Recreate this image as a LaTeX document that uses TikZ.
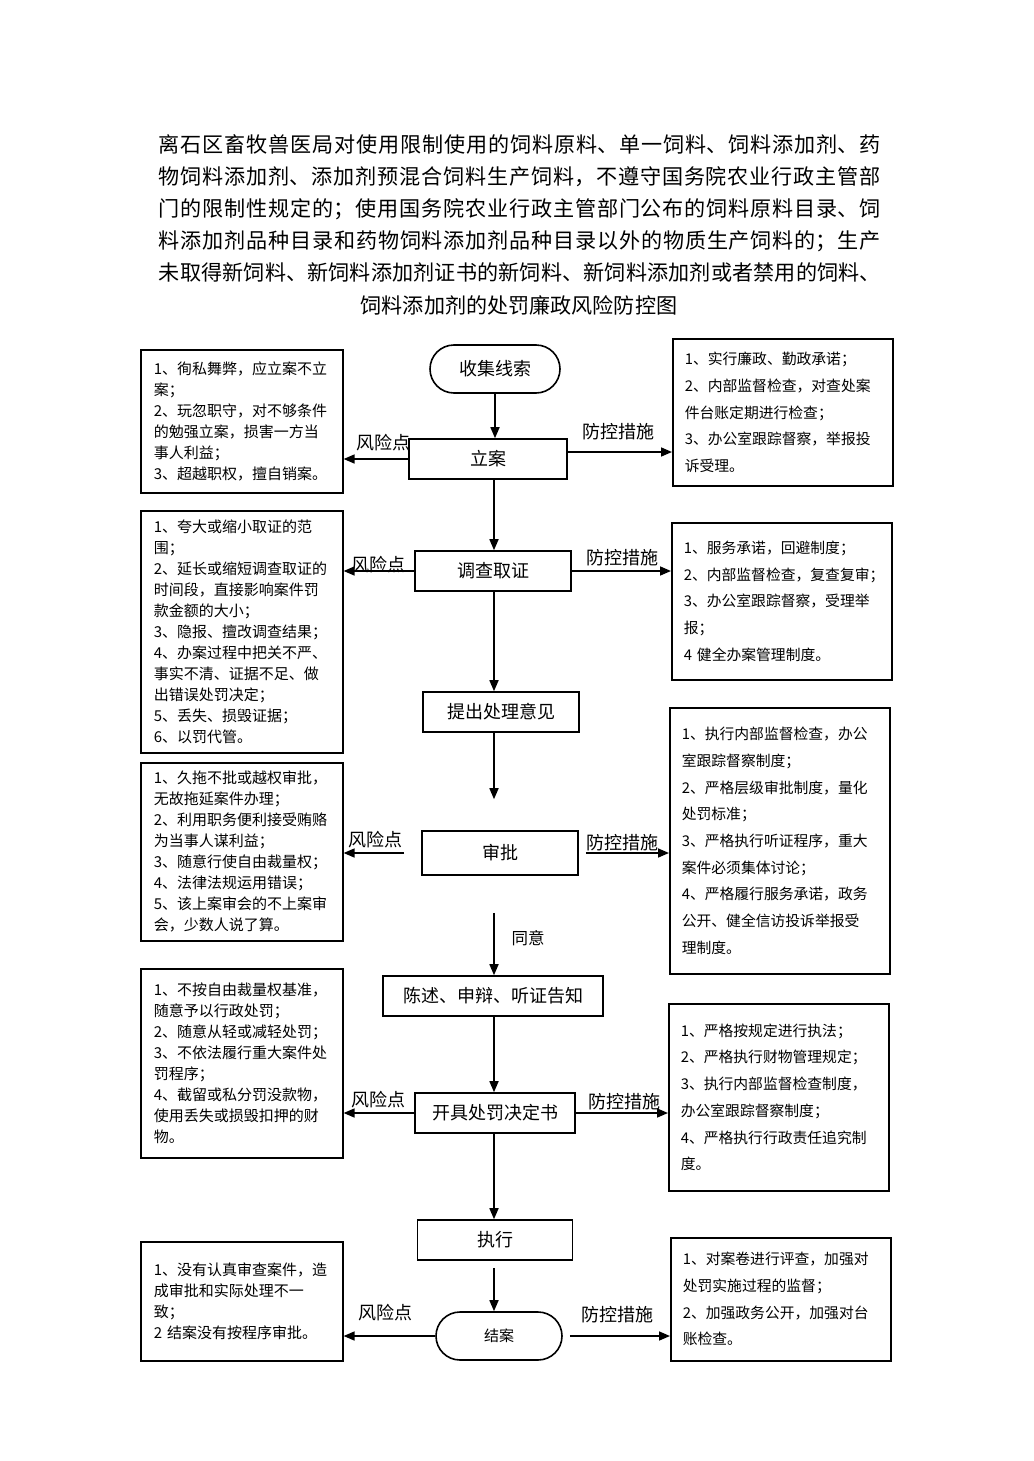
\documentclass[tikz,border=0pt]{standalone}
\usepackage{fontspec}
\setmainfont{Noto Sans CJK SC}
\usetikzlibrary{arrows.meta}
\newcommand{\titlefont}{\fontsize{21.1}{32}\selectfont
  \XeTeXlinebreaklocale "zh"\XeTeXlinebreakskip=0pt plus 2pt\relax}
\newcommand{\plainfont}[2]{\fontsize{#1}{#2}\selectfont\XeTeXlinebreaklocale ""\relax}

\begin{document}
\begin{tikzpicture}[x=1pt, y=-1pt, line width=1.6pt,
  arr/.style={-{Triangle[length=11pt,width=9pt]}},
  proc/.style={draw=black, rectangle, minimum width=156pt, minimum height=40pt,
    inner sep=0pt, font=\plainfont{18}{20}},
  term/.style={proc, rounded corners=24pt, minimum height=48pt},
  riskbox/.style={draw=black, anchor=north west, align=left, text width=176pt,
    inner xsep=13pt, inner ysep=0pt, font=\plainfont{15}{21}},
  ctrlbox/.style={draw=black, anchor=north west, align=left, text width=196pt,
    inner xsep=12pt, inner ysep=0pt, font=\plainfont{14.8}{26.7}},
  tag/.style={inner sep=0pt, font=\plainfont{18}{20}}]
\useasboundingbox[fill=white] (0,0) rectangle (1033,1461);
\node[anchor=north west, text width=722pt, align=justify, inner sep=0pt, font=\titlefont] (title) at (158,134) {离石区畜牧兽医局对使用限制使用的饲料原料、单一饲料、饲料添加剂、药\linebreak
物饲料添加剂、添加剂预混合饲料生产饲料，不遵守国务院农业行政主管部\linebreak
门的限制性规定的；使用国务院农业行政主管部门公布的饲料原料目录、饲\linebreak
料添加剂品种目录和药物饲料添加剂品种目录以外的物质生产饲料的；生产\linebreak
未取得新饲料、新饲料添加剂证书的新饲料、新饲料添加剂或者禁用的饲料、\linebreak};
\node[inner sep=0pt, font=\plainfont{21.1}{32}] (subtitle) at (519,305) {饲料添加剂的处罚廉政风险防控图};
\coordinate (col) at (494,0);
\node[term, minimum width=130pt] (collect) at (495,369) {收集线索};
\node[proc, minimum width=158pt] (filing) at (488,459) {立案};
\node[proc] (survey) at (493,571) {调查取证};
\node[proc] (propose) at (501,712) {提出处理意见};
\node[proc, minimum height=44pt] (approve) at (500,853) {审批};
\node[proc, minimum width=220pt] (notify) at (493,996) {陈述、申辩、听证告知};
\node[proc, minimum width=160pt] (decide) at (495,1113) {开具处罚决定书};
\node[proc, minimum width=155pt] (execute) at (495,1240) {执行};
\node[term, minimum width=126pt, font=\plainfont{15}{18}] (close) at (499,1336) {结案};
\node[riskbox, minimum height=143pt] (filingrisk) at (140,349) {1、徇私舞弊，应立案不立\\案；\\2、玩忽职守，对不够条件\\的勉强立案，损害一方当\\事人利益；\\3、超越职权，擅自销案。};
\node[riskbox, minimum height=242pt] (surveyrisk) at (140,510) {1、夸大或缩小取证的范\\围；\\2、延长或缩短调查取证的\\时间段，直接影响案件罚\\款金额的大小；\\3、隐报、擅改调查结果；\\4、办案过程中把关不严、\\事实不清、证据不足、做\\出错误处罚决定；\\5、丢失、损毁证据；\\6、以罚代管。};
\node[riskbox, minimum height=178pt] (approverisk) at (140,762) {1、久拖不批或越权审批，\\无故拖延案件办理；\\2、利用职务便利接受贿赂\\为当事人谋利益；\\3、随意行使自由裁量权；\\4、法律法规运用错误；\\5、该上案审会的不上案审\\会，少数人说了算。};
\node[riskbox, minimum height=189pt] (deciderisk) at (140,968) {1、不按自由裁量权基准，\\随意予以行政处罚；\\2、随意从轻或减轻处罚；\\3、不依法履行重大案件处\\罚程序；\\4、截留或私分罚没款物，\\使用丢失或损毁扣押的财\\物。};
\node[riskbox, minimum height=119pt] (closerisk) at (140,1241) {1、没有认真审查案件，造\\成审批和实际处理不一\\致；\\2 结案没有按程序审批。};
\node[ctrlbox, minimum height=147pt] (filingctrl) at (672,338) {1、实行廉政、勤政承诺；\\2、内部监督检查，对查处案\\件台账定期进行检查；\\3、办公室跟踪督察，举报投\\诉受理。};
\node[ctrlbox, minimum height=157pt] (surveyctrl) at (671,522) {1、服务承诺，回避制度；\\2、内部监督检查，复查复审；\\3、办公室跟踪督察，受理举\\报；\\4 健全办案管理制度。};
\node[ctrlbox, minimum height=266pt] (approvectrl) at (669,707) {1、执行内部监督检查，办公\\室跟踪督察制度；\\2、严格层级审批制度，量化\\处罚标准；\\3、严格执行听证程序，重大\\案件必须集体讨论；\\4、严格履行服务承诺，政务\\公开、健全信访投诉举报受\\理制度。};
\node[ctrlbox, minimum height=187pt] (decidectrl) at (668,1003) {1、严格按规定进行执法；\\2、严格执行财物管理规定；\\3、执行内部监督检查制度，\\办公室跟踪督察制度；\\4、严格执行行政责任追究制\\度。};
\node[ctrlbox, minimum height=123pt] (closectrl) at (670,1237) {1、对案卷进行评查，加强对\\处罚实施过程的监督；\\2、加强政务公开，加强对台\\账检查。};
\node[tag] (filingrl) at (383,443) {风险点};
\node[tag] (filingcl) at (618,432) {防控措施};
\node[tag] (surveyrl) at (378,565) {风险点};
\node[tag] (surveycl) at (622,558) {防控措施};
\node[tag] (approverl) at (375,840) {风险点};
\node[tag] (approvecl) at (622,843) {防控措施};
\node[tag] (deciderl) at (378,1100) {风险点};
\node[tag] (decidecl) at (624,1102) {防控措施};
\node[tag] (closerl) at (385,1313) {风险点};
\node[tag] (closecl) at (617,1315) {防控措施};
\node[tag, font=\plainfont{16.5}{18}] (agree) at (528,938) {同意};
\draw[arr] (collect.south) -- (collect.south |- filing.north);
\draw[arr] (filing.south -| col) -- (survey.north -| col);
\draw[arr] (survey.south -| col) -- (propose.north -| col);
\draw[arr, shorten >=31pt] (propose.south -| col) -- (approve.north -| col);
\draw[arr, shorten <=37pt] (approve.south -| col) -- (notify.north -| col);
\draw[arr] (notify.south -| col) -- (decide.north -| col);
\draw[arr] (decide.south -| col) -- (execute.north -| col);
\draw[arr, shorten <=7pt] (execute.south -| col) -- (close.north -| col);
\coordinate (filingout) at ([yshift=7pt]filing.east);
\draw[arr] (filing.west) -- (filing.west -| filingrisk.east);
\draw[arr] (filingout) -- (filingout -| filingctrl.west);
\draw[arr] (survey.west) -- (survey.west -| surveyrisk.east);
\draw[arr] (survey.east) -- (survey.east -| surveyctrl.west);
\draw[arr, shorten <=17pt] (approve.west) -- (approve.west -| approverisk.east);
\draw[arr, shorten <=7pt] (approve.east) -- (approve.east -| approvectrl.west);
\draw[arr] (decide.west) -- (decide.west -| deciderisk.east);
\draw[arr] (decide.east) -- (decide.east -| decidectrl.west);
\draw[arr] (close.west) -- (close.west -| closerisk.east);
\draw[arr, shorten <=7pt] (close.east) -- (close.east -| closectrl.west);
\end{tikzpicture}
\end{document}
